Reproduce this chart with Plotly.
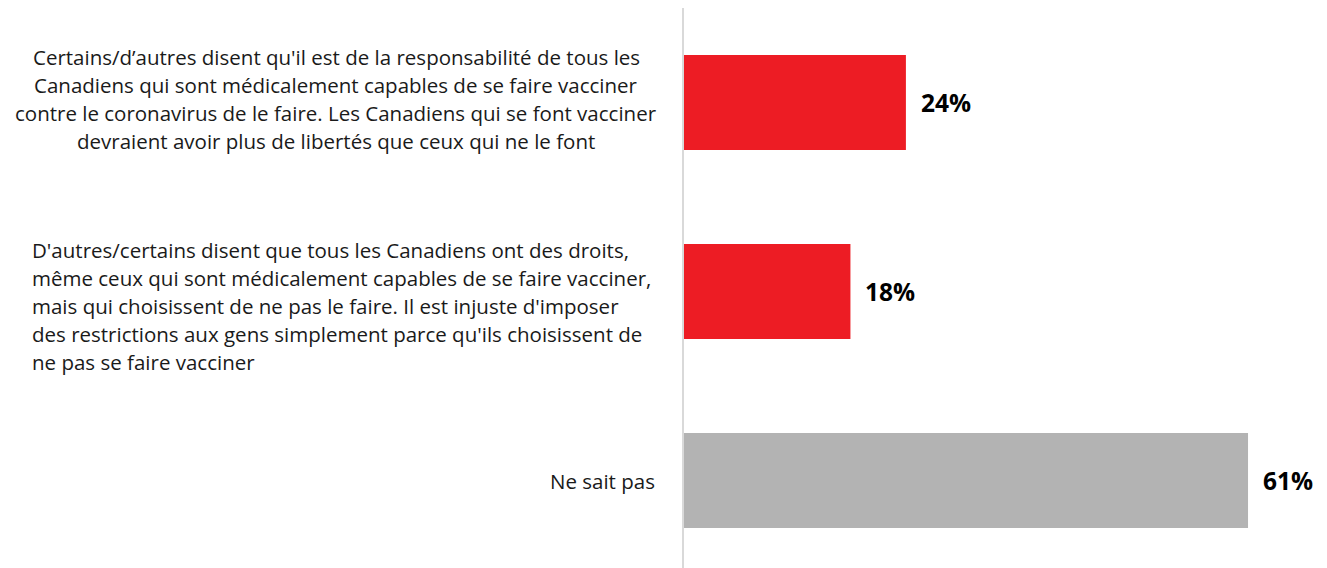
import plotly.graph_objects as go

categories = [
    "Certains/d\u2019autres disent qu'il est de la responsabilité de tous les\nCanadiens qui sont médicalement capables de se faire vacciner\ncontre le coronavirus de le faire. Les Canadiens qui se font vacciner\ndevraient avoir plus de libertés que ceux qui ne le font",
    "D'autres/certains disent que tous les Canadiens ont des droits,\nmême ceux qui sont médicalement capables de se faire vacciner,\nmais qui choisissent de ne pas le faire. Il est injuste d'imposer\ndes restrictions aux gens simplement parce qu'ils choisissent de\nne pas se faire vacciner",
    "Ne sait pas",
]
values = [24, 18, 61]
value_labels = ["24%", "18%", "61%"]
colors = ["#ED1C24", "#ED1C24", "#B3B3B3"]
label_align = ["center", "left", "right"]

# page has an 8px body margin
OFF = 8
W, H = 1327 - OFF, 568 - OFF
ml, mr, mt, mb = 684 - OFF, 5, 0, 0
xmax = 69
band_px = 189.0
plot_h = H - mt - mb
ymin = -0.5
ymax = ymin + plot_h / band_px

pos = list(range(len(categories)))

fig = go.Figure()
fig.add_trace(go.Bar(
    x=values, y=pos, orientation="h",
    marker=dict(color=colors, line=dict(width=0)),
    width=0.503, hoverinfo="skip",
))

font_family = "'Open Sans', sans-serif"
line_px = 28
anns = []
for i, (cat, al) in enumerate(zip(categories, label_align)):
    lines = cat.split("\n")
    n = len(lines)
    if al == "center":
        xpaper_px = 336 - 684
        xanchor = "center"
        offset0 = -4
    elif al == "left":
        xpaper_px = 30 - 684
        xanchor = "left"
        offset0 = 14
    else:
        xpaper_px = 657 - 684
        xanchor = "right"
        offset0 = 0
    for j, ln in enumerate(lines):
        dy = (j - (n - 1) / 2) * line_px + offset0
        anns.append(dict(
            x=0, y=pos[i], xref="x", yref="y",
            xshift=xpaper_px, yshift=-dy,
            text=ln, showarrow=False, xanchor=xanchor, yanchor="middle",
            font=dict(family=font_family, size=20.5, color="#1a1a1a"),
        ))
for i, (v, t) in enumerate(zip(values, value_labels)):
    anns.append(dict(
        x=v, y=pos[i], xref="x", yref="y", xshift=13, yshift=0,
        text="<b>" + t + "</b>", showarrow=False, xanchor="left", yanchor="middle",
        font=dict(family=font_family, size=24.5, color="#000000"),
    ))

fig.update_layout(
    width=W, height=H,
    margin=dict(l=ml, r=mr, t=mt, b=mb),
    paper_bgcolor="white", plot_bgcolor="white",
    showlegend=False,
    annotations=anns,
    xaxis=dict(range=[0, xmax], showgrid=False, zeroline=False, showticklabels=False,
               showline=False, fixedrange=True),
    yaxis=dict(range=[ymax, ymin], showgrid=False, zeroline=False, showticklabels=False,
               showline=True, linecolor="#D9D9D9", linewidth=2, fixedrange=True),
)

fig.write_html("out.html", config={"displayModeBar": False})
